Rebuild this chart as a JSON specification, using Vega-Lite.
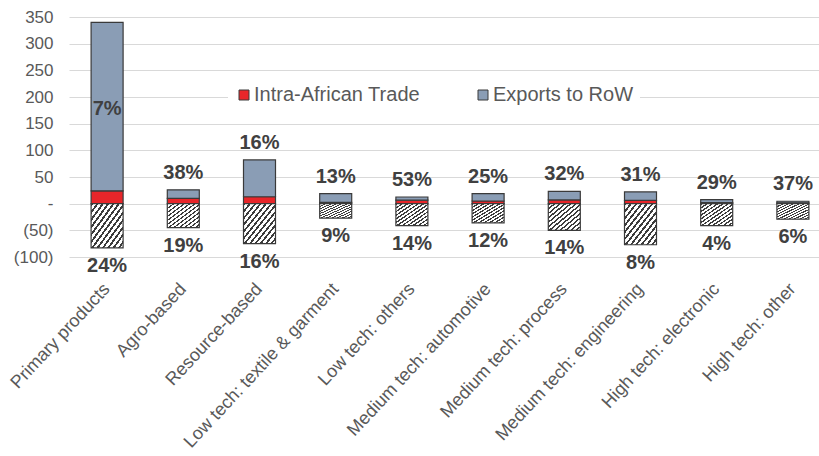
{
  "$schema": "https://vega.github.io/schema/vega-lite/v6.json",
  "width": 750,
  "height": 240,
  "autosize": {"type": "none"},
  "padding": {"left": 69, "top": 17, "right": 0, "bottom": 199},
  "background": "white",
  "config": {
    "view": {"stroke": null},
    "font": "Liberation Sans",
    "axisY": {
      "title": null,
      "grid": true,
      "gridColor": "#d9d9d9",
      "domain": false,
      "ticks": false,
      "labelFontSize": 17,
      "labelColor": "#595959",
      "labelPadding": 16,
      "labelOverlap": false,
      "labelFlush": false
    }
  },
  "data": {
    "values": [
      {"cat": "Primary products", "intra": 24, "exports": 340, "imports": -83, "top": "7%", "bottom": "24%"},
      {"cat": "Agro-based", "intra": 10, "exports": 26, "imports": -45, "top": "38%", "bottom": "19%"},
      {"cat": "Resource-based", "intra": 13, "exports": 82, "imports": -75, "top": "16%", "bottom": "16%"},
      {"cat": "Low tech: textile & garment", "intra": 2.5, "exports": 19, "imports": -27, "top": "13%", "bottom": "9%"},
      {"cat": "Low tech: others", "intra": 6.5, "exports": 12.5, "imports": -41, "top": "53%", "bottom": "14%"},
      {"cat": "Medium tech: automotive", "intra": 5, "exports": 19, "imports": -36, "top": "25%", "bottom": "12%"},
      {"cat": "Medium tech: process", "intra": 7, "exports": 23, "imports": -50, "top": "32%", "bottom": "14%"},
      {"cat": "Medium tech: engineering", "intra": 6, "exports": 22, "imports": -77, "top": "31%", "bottom": "8%"},
      {"cat": "High tech: electronic", "intra": 2, "exports": 7.5, "imports": -41, "top": "29%", "bottom": "4%"},
      {"cat": "High tech: other", "intra": 1.7, "exports": 4.5, "imports": -29, "top": "37%", "bottom": "6%"}
    ]
  },
  "encoding": {
    "x": {
      "field": "cat",
      "type": "nominal",
      "sort": null,
      "scale": {"range": [0, 762], "paddingInner": 0.58, "paddingOuter": 0.29},
      "axis": {
        "title": null,
        "domain": false,
        "ticks": false,
        "grid": false,
        "labelAngle": -47,
        "labelAlign": "right",
        "labelBaseline": "middle",
        "labelFontSize": 18,
        "labelColor": "#595959",
        "labelPadding": 29,
        "labelLimit": 400,
        "labelOverlap": false
      }
    }
  },
  "layer": [
    {
      "mark": {"type": "bar", "stroke": "#3a3a3a", "strokeWidth": 1.2},
      "encoding": {
        "y": {
          "field": "intra",
          "type": "quantitative",
          "scale": {"domain": [-100, 350], "nice": false},
          "axis": {
            "values": [-100, -50, 0, 50, 100, 150, 200, 250, 300, 350],
            "tickCount": 12,
            "labelExpr": "datum.value == 0 ? '-' : (datum.value < 0 ? '(' + (-datum.value) + ')' : datum.value)"
          }
        },
        "color": {
          "datum": "Intra-African Trade",
          "scale": {"domain": ["Intra-African Trade", "Exports to RoW"], "range": ["#e8262a", "#8a9db5"]},
          "legend": {
            "title": null,
            "orient": "none",
            "legendX": 159,
            "legendY": 62,
            "direction": "horizontal",
            "columns": 2,
            "columnPadding": 53,
            "symbolType": "square",
            "symbolSize": 100,
            "symbolStrokeColor": "#333333",
            "symbolStrokeWidth": 1,
            "labelFontSize": 20,
            "labelColor": "#595959",
            "labelOffset": 0,
            "labelLimit": 400,
            "fillColor": "white",
            "padding": 6
          }
        }
      }
    },
    {
      "mark": {"type": "bar", "stroke": "#3a3a3a", "strokeWidth": 1.2},
      "encoding": {
        "y": {"field": "intra", "type": "quantitative"},
        "y2": {"field": "exports"},
        "color": {"datum": "Exports to RoW"}
      }
    },
    {
      "mark": {
        "type": "bar",
        "stroke": "#3a3a3a",
        "strokeWidth": 1.2,
        "fill": {
          "gradient": "linear",
          "x1": 0, "y1": 0, "x2": 1, "y2": 1,
          "stops": [
            {"offset": 0.0, "color": "#3c3c3c"}, {"offset": 0.035, "color": "#3c3c3c"}, {"offset": 0.035, "color": "#ffffff"}, {"offset": 0.0833, "color": "#ffffff"},
            {"offset": 0.0833, "color": "#3c3c3c"}, {"offset": 0.1183, "color": "#3c3c3c"}, {"offset": 0.1183, "color": "#ffffff"}, {"offset": 0.1667, "color": "#ffffff"},
            {"offset": 0.1667, "color": "#3c3c3c"}, {"offset": 0.2017, "color": "#3c3c3c"}, {"offset": 0.2017, "color": "#ffffff"}, {"offset": 0.25, "color": "#ffffff"},
            {"offset": 0.25, "color": "#3c3c3c"}, {"offset": 0.285, "color": "#3c3c3c"}, {"offset": 0.285, "color": "#ffffff"}, {"offset": 0.3333, "color": "#ffffff"},
            {"offset": 0.3333, "color": "#3c3c3c"}, {"offset": 0.3683, "color": "#3c3c3c"}, {"offset": 0.3683, "color": "#ffffff"}, {"offset": 0.4167, "color": "#ffffff"},
            {"offset": 0.4167, "color": "#3c3c3c"}, {"offset": 0.4517, "color": "#3c3c3c"}, {"offset": 0.4517, "color": "#ffffff"}, {"offset": 0.5, "color": "#ffffff"},
            {"offset": 0.5, "color": "#3c3c3c"}, {"offset": 0.535, "color": "#3c3c3c"}, {"offset": 0.535, "color": "#ffffff"}, {"offset": 0.5833, "color": "#ffffff"},
            {"offset": 0.5833, "color": "#3c3c3c"}, {"offset": 0.6183, "color": "#3c3c3c"}, {"offset": 0.6183, "color": "#ffffff"}, {"offset": 0.6667, "color": "#ffffff"},
            {"offset": 0.6667, "color": "#3c3c3c"}, {"offset": 0.7017, "color": "#3c3c3c"}, {"offset": 0.7017, "color": "#ffffff"}, {"offset": 0.75, "color": "#ffffff"},
            {"offset": 0.75, "color": "#3c3c3c"}, {"offset": 0.785, "color": "#3c3c3c"}, {"offset": 0.785, "color": "#ffffff"}, {"offset": 0.8333, "color": "#ffffff"},
            {"offset": 0.8333, "color": "#3c3c3c"}, {"offset": 0.8683, "color": "#3c3c3c"}, {"offset": 0.8683, "color": "#ffffff"}, {"offset": 0.9167, "color": "#ffffff"},
            {"offset": 0.9167, "color": "#3c3c3c"}, {"offset": 0.9517, "color": "#3c3c3c"}, {"offset": 0.9517, "color": "#ffffff"}, {"offset": 1.0, "color": "#ffffff"}
          ]
        }
      },
      "encoding": {
        "y": {"field": "imports", "type": "quantitative"}
      }
    },
    {
      "transform": [{"filter": "datum.cat != 'Primary products'"}],
      "mark": {"type": "text", "baseline": "bottom", "dy": -7, "fontSize": 20, "fontWeight": "bold", "fill": "#404040"},
      "encoding": {
        "y": {"field": "exports", "type": "quantitative"},
        "text": {"field": "top"}
      }
    },
    {
      "transform": [{"filter": "datum.cat == 'Primary products'"}],
      "mark": {"type": "text", "baseline": "middle", "dy": 87, "fontSize": 20, "fontWeight": "bold", "fill": "#404040"},
      "encoding": {
        "y": {"field": "exports", "type": "quantitative"},
        "text": {"field": "top"}
      }
    },
    {
      "mark": {"type": "text", "baseline": "top", "dy": 8, "fontSize": 20, "fontWeight": "bold", "fill": "#404040"},
      "encoding": {
        "y": {"field": "imports", "type": "quantitative"},
        "text": {"field": "bottom"}
      }
    }
  ]
}
